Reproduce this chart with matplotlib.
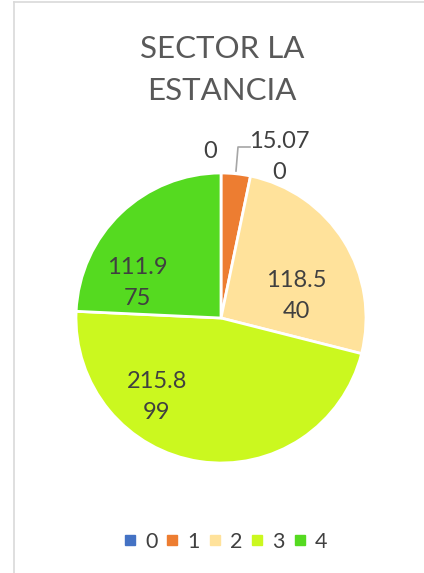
import matplotlib
matplotlib.use("Agg")
import matplotlib.pyplot as plt
from matplotlib.lines import Line2D

# Datos del sector
categorias = ["0", "1", "2", "3", "4"]
valores = [0.0, 15.070, 118.540, 215.899, 111.975]
colores = ["#4472C4", "#ED7D31", "#FFE29B", "#CBF81F", "#55DA20"]

TITULO = "SECTOR LA\nESTANCIA"
TEXTO = "#404040"
FUENTE = "Lato"

W, H = 424, 573


def etiqueta(v):
    # Excel corta el texto de la etiqueta a 5 caracteres por línea
    s = "0" if v == 0 else f"{v:.3f}"
    return "\n".join(s[i:i + 5] for i in range(0, len(s), 5))


fig = plt.figure(figsize=(W / 100, H / 100), dpi=100)
ax = fig.add_axes([0, 0, 1, 1])

# marco del área del gráfico
fig.add_artist(Line2D([14 / W, 14 / W], [0, 1 - 2 / H], color="#D9D9D9", lw=1.2))
fig.add_artist(Line2D([14 / W, 1], [1 - 2 / H, 1 - 2 / H], color="#D9D9D9", lw=1.2))

cx, cy, r = 221, H - 318, 145
ax.pie(valores, colors=colores, startangle=90, counterclock=False,
       center=(cx, cy), radius=r, frame=True,
       wedgeprops=dict(edgecolor="white", linewidth=2))
ax.set_xlim(0, W)
ax.set_ylim(0, H)
ax.axis("off")

ax.text(222, H - 70, TITULO, ha="center", va="center", fontsize=22.5,
        color="#595959", family=FUENTE, linespacing=1.6)

# posiciones de las etiquetas (px desde arriba)
pos_etiquetas = [(210, 152), (279, 157), (296, 296), (157, 397), (137, 283)]
for v, (x, y) in zip(valores, pos_etiquetas):
    ax.text(x, H - y, etiqueta(v), ha="center", va="center", fontsize=17,
            color=TEXTO, family=FUENTE, linespacing=1.6)

# línea guía de la etiqueta del sector 1
ax.plot([236, 238, 250], [H - 171, H - 147, H - 147], color="#A6A6A6", lw=1.2)

handles = [plt.Line2D([], [], marker="s", ls="", color=c, markersize=7) for c in colores]
ax.legend(handles, categorias, loc="center", bbox_to_anchor=(226 / W, 1 - 542 / H),
          ncol=5, frameon=False, handlelength=0.5, handletextpad=0.45,
          columnspacing=0.45, prop=dict(family=FUENTE, size=15.5), labelcolor=TEXTO)

fig.savefig("out.png", dpi=100)
